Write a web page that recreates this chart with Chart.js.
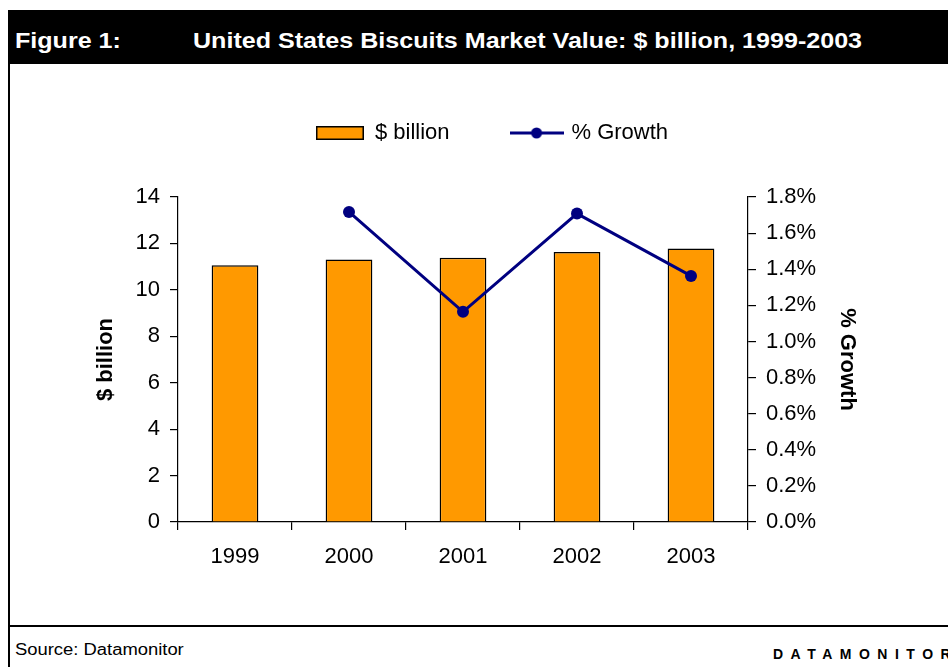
<!DOCTYPE html>
<html>
<head>
<meta charset="utf-8">
<script src="https://cdn.jsdelivr.net/npm/chart.js@4"></script>
<style>
  html, body { margin:0; padding:0; background:#fff; width:948px; height:667px; overflow:hidden; position:relative;
    font-family:"Liberation Sans", Arial, sans-serif; }
  #titlebar { position:absolute; left:8px; top:10px; width:940px; height:54px; background:#000; z-index:2; }
  .tt { position:absolute; top:20.3px; color:#fff; font-weight:bold; font-size:22px; line-height:22px;
    white-space:nowrap; transform:scaleX(1.14); transform-origin:0 0; }
  #leftline { position:absolute; left:8px; top:64px; width:2px; height:603px; background:#000; z-index:2; }
  #footline { position:absolute; left:8px; top:625px; width:940px; height:2px; background:#000; z-index:2; }
  #source { position:absolute; left:15px; top:642px; font-size:16px; line-height:16px; color:#000; white-space:nowrap;
    transform:scaleX(1.15); transform-origin:0 0; }
  #brand { position:absolute; left:773px; top:647px; font-size:14px; line-height:14px; font-weight:bold; color:#000;
    letter-spacing:7.5px; white-space:nowrap; }
  #wrap { position:absolute; left:36px; top:0px; width:912px; height:625px; z-index:1; }
</style>
</head>
<body>
<div id="titlebar">
  <span class="tt" style="left:7px">Figure 1:</span>
  <span class="tt" style="left:185px">United States Biscuits Market Value: $ billion, 1999-2003</span>
</div>
<div id="leftline"></div>
<div id="footline"></div>
<div id="source">Source: Datamonitor</div>
<div id="brand">DATAMONITOR</div>
<div id="wrap"><canvas id="c" width="912" height="625"></canvas></div>
<script>
// ---- data ----
const categories = ['1999', '2000', '2001', '2002', '2003'];
const billionValues = [11.06, 11.31, 11.38, 11.63, 11.78];
const growthValues = [null, 1.717, 1.164, 1.708, 1.363];
const billionTicks = [0, 2, 4, 6, 8, 10, 12, 14];
const growthTicks = [0.0, 0.2, 0.4, 0.6, 0.8, 1.0, 1.2, 1.4, 1.6, 1.8];
const seriesNames = ['$ billion', '% Growth'];
const leftAxisTitle = '$ billion';
const rightAxisTitle = '% Growth';

const ORANGE = '#FF9900';
const NAVY = '#000080';
const FONT = '"Liberation Sans", Arial, sans-serif';

Chart.defaults.font.family = FONT;
Chart.defaults.color = '#000';

// legend symbols
const barImg = document.createElement('canvas');
barImg.width = 48; barImg.height = 14;
(function(){ const g = barImg.getContext('2d'); g.fillStyle = ORANGE; g.fillRect(0,0,48,14);
  g.strokeStyle = '#000'; g.lineWidth = 1.5; g.strokeRect(0.75,0.75,46.5,12.5); })();
const lineImg = document.createElement('canvas');
lineImg.width = 54; lineImg.height = 12;
(function(){ const g = lineImg.getContext('2d'); g.strokeStyle = NAVY; g.lineWidth = 3;
  g.beginPath(); g.moveTo(0,6); g.lineTo(54,6); g.stroke();
  g.fillStyle = NAVY; g.beginPath(); g.arc(27,6,5.5,0,Math.PI*2); g.fill(); })();

const tickFont = { size: 22, family: FONT };

new Chart(document.getElementById('c'), {
  data: {
    labels: categories,
    datasets: [
      { type: 'bar', label: seriesNames[0], data: billionValues, yAxisID: 'y', xAxisID: 'x',
        backgroundColor: ORANGE, borderColor: '#000', borderWidth: 1.5,
        barPercentage: 0.41, categoryPercentage: 1.0, order: 1 },
      { type: 'line', label: seriesNames[1], data: growthValues, yAxisID: 'y1', xAxisID: 'x',
        borderColor: NAVY, backgroundColor: NAVY, borderWidth: 3, tension: 0,
        pointRadius: 6, pointBorderWidth: 0, pointBackgroundColor: NAVY, pointHoverRadius: 6,
        spanGaps: false, order: 0 }
    ]
  },
  options: {
    responsive: false,
    animation: false,
    devicePixelRatio: 1,
    layout: { padding: { top: 59, left: 0, right: 0, bottom: 0 } },
    plugins: {
      tooltip: { enabled: false },
      legend: {
        position: 'top', align: 'center',
        labels: {
          usePointStyle: true, pointStyleWidth: 48, padding: 63, color: '#000',
          font: { size: 22, family: FONT },
          generateLabels(chart) {
            const items = Chart.defaults.plugins.legend.labels.generateLabels(chart);
            items.sort((a, b) => a.datasetIndex - b.datasetIndex);
            items.forEach(it => { it.pointStyle = it.datasetIndex === 0 ? barImg : lineImg; it.fontColor = '#000'; });
            return items;
          }
        }
      }
    },
    scales: {
      x: {
        type: 'category', position: 'bottom', offset: true,
        grid: { display: true, drawOnChartArea: false, drawTicks: true, tickLength: 8, color: '#000', offset: true, lineWidth: 1.2 },
        border: { display: true, color: '#000', width: 1.2 },
        ticks: { color: '#000', font: tickFont, padding: 14, maxRotation: 0, autoSkip: false },
        afterFit(s) { s.height = 103; }
      },
      xTop: {
        type: 'category', position: 'top', display: true,
        grid: { display: false }, border: { display: false }, ticks: { display: false },
        afterFit(s) { s.height = 43; }
      },
      y: {
        type: 'linear', position: 'left', min: 0, max: 14,
        afterBuildTicks(s) { s.ticks = billionTicks.map(v => ({ value: v })); },
        grid: { display: true, drawOnChartArea: false, drawTicks: true, tickLength: 8, color: '#000', lineWidth: 1.2 },
        border: { display: true, color: '#000', width: 1.2 },
        ticks: { color: '#000', font: tickFont, padding: 10, callback: v => String(v) },
        title: { display: true, text: leftAxisTitle, color: '#000', font: { size: 22, weight: 'bold', family: FONT },
          padding: { top: 57, bottom: 0 } },
        afterFit(s) { s.width = 142; }
      },
      y1: {
        type: 'linear', position: 'right', min: 0, max: 1.8,
        afterBuildTicks(s) { s.ticks = growthTicks.map(v => ({ value: v })); },
        grid: { display: true, drawOnChartArea: false, drawTicks: true, tickLength: 8, color: '#000', lineWidth: 1.2 },
        border: { display: true, color: '#000', width: 1.2 },
        ticks: { color: '#000', font: tickFont, padding: 10, callback: v => Number(v).toFixed(1) + '%' },
        title: { display: true, text: rightAxisTitle, color: '#000', font: { size: 22, weight: 'bold', family: FONT },
          padding: { top: 88, bottom: 0 } },
        afterFit(s) { s.width = 200; }
      }
    }
  }
});
</script>
</body>
</html>
